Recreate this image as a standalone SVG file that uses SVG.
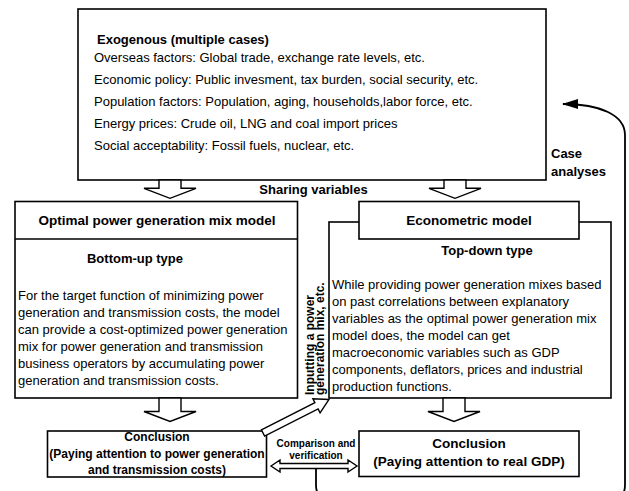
<svg xmlns="http://www.w3.org/2000/svg" width="629" height="491" viewBox="0 0 629 491">
<style>
.box{fill:#fff;stroke:#000;stroke-width:1.6}
.blk{fill:#fff;stroke:#000;stroke-width:1.4;stroke-linejoin:miter}
.t{font-family:"Liberation Sans",Arial,sans-serif;font-size:13px;fill:#000}
.b{font-family:"Liberation Sans",Arial,sans-serif;font-weight:bold;font-size:13px;fill:#000}
.c{text-anchor:middle}
.line{fill:none;stroke:#000;stroke-width:1.8}
</style>
<defs>
<marker id="ah" viewBox="0 0 16 10" refX="15" refY="5" markerWidth="16" markerHeight="10" markerUnits="userSpaceOnUse" orient="auto">
<path d="M0,0 L16,5 L0,10 Z" fill="#000"/>
</marker>
</defs>
<rect width="629" height="491" fill="#fff"/>

<g id="exogenous">
<rect class="box" x="78" y="9" width="468" height="171"/>
<text class="b" x="97" y="43.5">Exogenous (multiple cases)</text>
<text class="t" x="94" y="61.5">Overseas factors: Global trade, exchange rate levels, etc.</text>
<text class="t" x="94" y="83.5">Economic policy: Public invesment, tax burden, social security, etc.</text>
<text class="t" x="94" y="105.5">Population factors: Population, aging, households,labor force, etc.</text>
<text class="t" x="94" y="127.5">Energy prices: Crude oil, LNG and coal import prices</text>
<text class="t" x="94" y="149.5">Social acceptability: Fossil fuels, nuclear, etc.</text>
</g>

<g id="optimal-model">
<rect class="box" x="15" y="201.5" width="282.5" height="196.5"/>
<line x1="15" y1="239" x2="297.5" y2="239" stroke="#000" stroke-width="1.6"/>
<text class="b c" x="157" y="224.5" style="font-size:13.5px">Optimal power generation mix model</text>
<text class="b c" x="135" y="263">Bottom-up type</text>
<text class="t" x="18" y="300">For the target function of minimizing power</text>
<text class="t" x="18" y="317">generation and transmission costs, the model</text>
<text class="t" x="18" y="334">can provide a cost-optimized power generation</text>
<text class="t" x="18" y="351">mix for power generation and transmission</text>
<text class="t" x="18" y="368">business operators by accumulating power</text>
<text class="t" x="18" y="385">generation and transmission costs.</text>
</g>

<g id="econometric-model">
<rect class="box" x="329" y="222" width="282" height="176"/>
<rect class="box" x="359" y="201.5" width="220" height="37.5"/>
<text class="b c" x="469" y="224.5" style="font-size:13.5px">Econometric model</text>
<text class="b c" x="487" y="255">Top-down type</text>
<text class="t" x="332" y="289">While providing power generation mixes based</text>
<text class="t" x="332" y="306">on past correlations between explanatory</text>
<text class="t" x="332" y="323">variables as the optimal power generation mix</text>
<text class="t" x="332" y="340">model does, the model can get</text>
<text class="t" x="332" y="357">macroeconomic variables such as GDP</text>
<text class="t" x="332" y="374">components, deflators, prices and industrial</text>
<text class="t" x="332" y="391">production functions.</text>
</g>

<g id="conclusion-left">
<rect class="box" x="47.5" y="431" width="219" height="46"/>
<text class="b c" x="157" y="441" style="font-size:12px">Conclusion</text>
<text class="b c" x="157" y="458" style="font-size:12px">(Paying attention to power generation</text>
<text class="b c" x="157" y="474" style="font-size:12px">and transmission costs)</text>
</g>

<g id="conclusion-right">
<rect class="box" x="359" y="431" width="220" height="45.5"/>
<text class="b c" x="469" y="447.5" style="font-size:13.5px">Conclusion</text>
<text class="b c" x="469" y="466" style="font-size:13.5px">(Paying attention to real GDP)</text>
</g>

<g id="connectors">
<polygon class="blk" points="159,180 181,180 181,188.3 196,188.3 170,198.3 144,188.3 159,188.3"/>
<polygon class="blk" points="444,180 466,180 466,188.3 481,188.3 455,198.3 429,188.3 444,188.3"/>
<polygon class="blk" points="159,398 181,398 181,411.5 196,411.5 170,421.5 144,411.5 159,411.5"/>
<polygon class="blk" points="443,398 465,398 465,411.5 480,411.5 454,421.5 428,411.5 443,411.5"/>
<polygon class="blk" points="261.4,429.9 314.9,402.7 312.9,398.7 329,399.5 320.1,412.9 318.1,408.9 264.6,436.1"/>
<polygon class="blk" points="271,466 280,460 280,463.5 348,463.5 348,460 357,466 348,472 348,468.5 280,468.5 280,472"/>
<path class="line" d="M316,468 L316,485 Q316,500 331,500 L610,500 Q625,500 625,485 L625,135 C625,115 600,104 563,104" marker-end="url(#ah)"/>
<text class="b" x="313.5" y="395" transform="rotate(-90 313.5 395)" style="font-size:12px">Inputting a power</text>
<text class="b" x="324" y="395" transform="rotate(-90 324 395)" style="font-size:12px">generation mix, etc.</text>
<text class="b c" x="313.5" y="193.5">Sharing variables</text>
<text class="b" x="551" y="158">Case</text>
<text class="b" x="551" y="176">analyses</text>
<text class="b c" x="316" y="447" style="font-size:10px">Comparison and</text>
<text class="b c" x="316" y="459" style="font-size:10px">verification</text>
</g>
</svg>
